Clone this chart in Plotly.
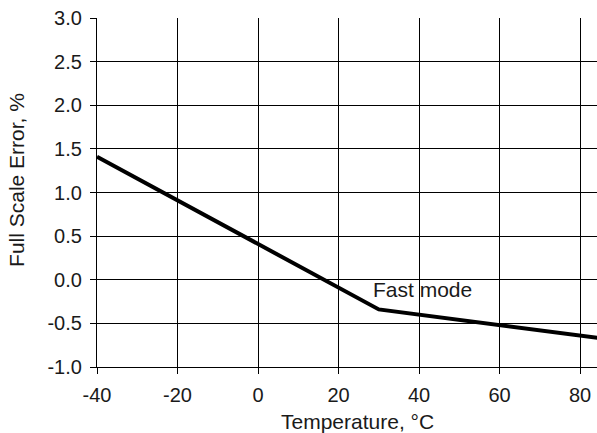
import plotly.graph_objects as go

# dados
temperatura = [-40, 30, 85]
erro_fs = [1.41, -0.34, -0.67]
x_ticks = [-40, -20, 0, 20, 40, 60, 80]
x_rotulos = ["-40", "-20", "0", "20", "40", "60", "80"]
y_ticks = [-1.0, -0.5, 0.0, 0.5, 1.0, 1.5, 2.0, 2.5, 3.0]
y_rotulos = ["-1.0", "-0.5", "0.0", "0.5", "1.0", "1.5", "2.0", "2.5", "3.0"]
rotulo_curva = "Fast mode"
titulo_x = "Temperature, °C"
titulo_y = "Full Scale Error, %"

fonte = dict(family="Liberation Sans, Arial, sans-serif", size=20, color="#1a1a1a")
fonte_titulo = dict(fonte, size=21)

fig = go.Figure(go.Scatter(
    x=temperatura,
    y=erro_fs,
    mode="lines",
    line=dict(color="black", width=4),
    showlegend=False,
))

eixo = dict(
    showgrid=True,
    gridcolor="black",
    gridwidth=1.2,
    showline=True,
    linecolor="black",
    linewidth=1.2,
    ticks="outside",
    ticklen=6,
    tickcolor="black",
    zeroline=False,
    tickfont=fonte,
    ticklabelstandoff=4,
)

fig.update_xaxes(eixo, range=[-40, 84.2], tickvals=x_ticks, ticktext=x_rotulos)
fig.update_yaxes(eixo, range=[-1.0, 3.0], tickvals=y_ticks, ticktext=y_rotulos)

fig.add_annotation(x=28.0, y=-0.11, text=rotulo_curva, showarrow=False,
                   xanchor="left", yanchor="middle", font=fonte_titulo)
fig.add_annotation(x=0.52, y=-0.155, xref="paper", yref="paper", text=titulo_x,
                   showarrow=False, xanchor="center", yanchor="middle", font=fonte_titulo)
fig.add_annotation(x=-0.16, y=0.536, xref="paper", yref="paper", text=titulo_y,
                   showarrow=False, textangle=-90, xanchor="center", yanchor="middle",
                   font=fonte_titulo)

fig.update_layout(
    width=597,
    height=433,
    margin=dict(l=97, r=0, t=18, b=66),
    plot_bgcolor="white",
    paper_bgcolor="white",
    font=fonte,
)

# tira a margem padrão do <body> para o gráfico ficar em (0, 0)
fig.write_html("out.html", config={"displayModeBar": False},
               post_script="document.body.style.margin='0';")
